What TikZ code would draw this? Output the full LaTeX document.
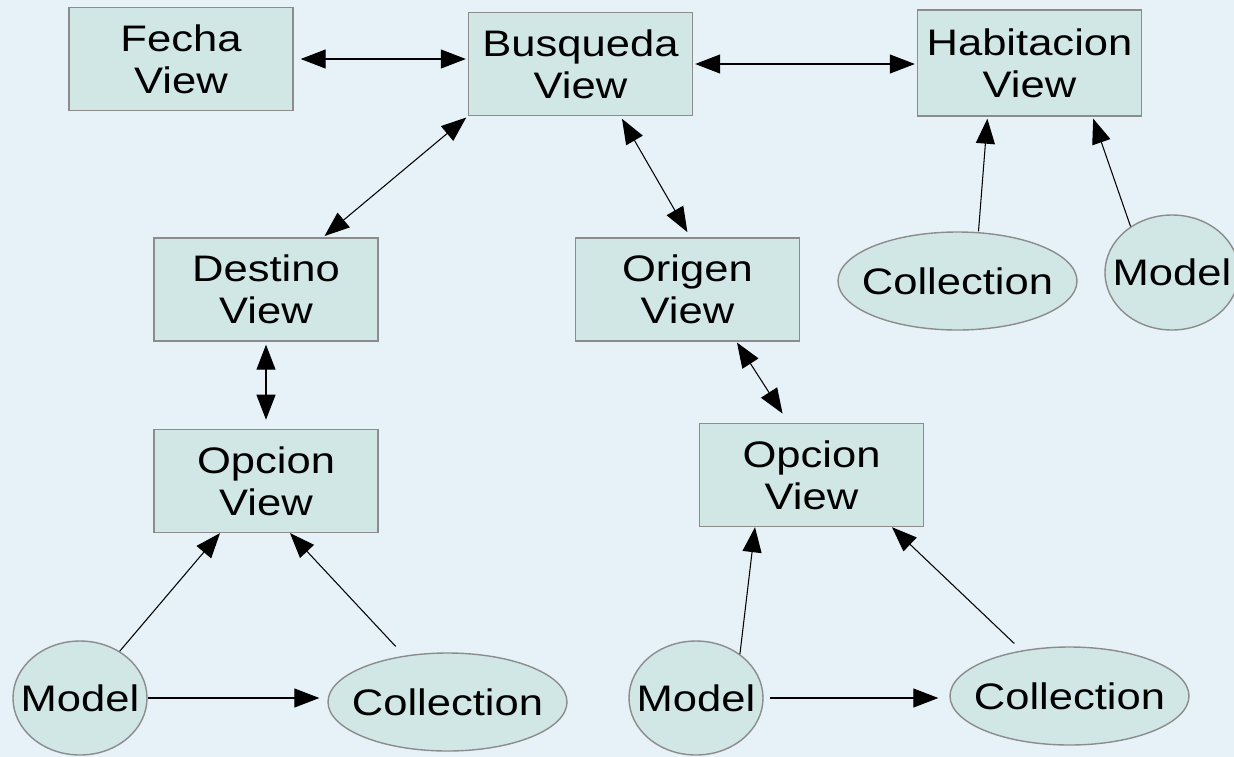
\documentclass[tikz,border=0pt]{standalone}
\usepackage{fontspec}
\setmainfont{Liberation Sans}[FakeStretch=1.18]
\usepackage{tikz}
\usetikzlibrary{arrows.meta}
\usetikzlibrary{positioning, shapes.geometric}
\definecolor{bgblue}{HTML}{E6F2F8}
\definecolor{boxfill}{HTML}{D0E7E6}
\definecolor{boxline}{HTML}{8C8C8C}

\begin{document}
\begin{tikzpicture}[auto, node distance=1cm, line width=0.6pt,
			box/.style={rectangle,draw=boxline,fill=boxfill,line width=0.8pt,minimum width=4.48cm,minimum height=2.06cm,align=center,font=\fontsize{21}{24}\selectfont},
			blob/.style={ellipse,draw=boxline,fill=boxfill,line width=0.8pt,inner sep=0pt,font=\fontsize{21}{24}\selectfont},
			collblob/.style={blob,minimum width=4.78cm,minimum height=1.96cm},
			modelblob/.style={blob,minimum width=2.68cm,minimum height=2.28cm},
			tip/.style={-{Triangle[length=0.5cm,width=0.38cm]}},
			twotips/.style={{Triangle[length=0.5cm,width=0.38cm]}-{Triangle[length=0.5cm,width=0.38cm]}}]
			
			\useasboundingbox (0,0) rectangle (24.68,-15.12);
			\fill[bgblue] (-0.2,0.2) rectangle (24.88,-15.32);
			
			\node[box] (fecha) at (3.62,-1.18) {Fecha\\View};
			\node[box] (busq) at (11.61,-1.28) {Busqueda\\View};
			\node[box, minimum height=2.12cm] (habit) at (20.59,-1.26) {Habitacion\\View};
			\node[box] (destino) at (5.32,-5.79) {Destino\\View};
			\node[box] (origen) [right=3.92cm of destino] {Origen\\View};
			\node[box] (opcL) [below=1.74cm of destino] {Opcion\\View};
			\node[box] (opcR) at (16.23,-9.5) {Opcion\\View};
			\node[collblob] (collTR) at (19.15,-5.62) {\makebox[0pt]{Collection}};
			\node[modelblob, minimum height=2.3cm] (modelTR) at (23.44,-5.45) {\makebox[0pt]{Model}};
			\node[modelblob] (modelL) at (1.6,-13.96) {\makebox[0pt]{Model}};
			\node[collblob] (collL) at (8.95,-14.04) {\makebox[0pt]{Collection}};
			\node[modelblob] (modelR) at (13.92,-13.96) {\makebox[0pt]{Model}};
			\node[collblob] (collR) at (21.39,-13.92) {\makebox[0pt]{Collection}};
			
			
			\path (fecha.east) edge [twotips, shorten <=0.14cm, shorten >=0.04cm] (fecha.east -| busq.west);
			\path (busq.east) edge [twotips, shorten <=0.04cm, shorten >=0.04cm] (busq.east -| habit.west);
			\path (busq.south west) edge [twotips, shorten <=0.04cm, shorten >=0.04cm] ([xshift=1.14cm]destino.north);
			\path ([xshift=0.8cm]busq.south) edge [twotips, shorten <=0.06cm, shorten >=0.12cm] ([xshift=0.06cm]origen.north);
			\path (destino.south) edge [twotips, shorten <=0.06cm, shorten >=0.18cm] (opcL.north);
			\path ([xshift=0.98cm]origen.south) edge [twotips, shorten <=0.02cm, shorten >=0.22cm] ([xshift=-0.46cm]opcR.north);
			\path ([xshift=0.42cm]collTR.north) edge [tip, shorten >=0.04cm] ([xshift=-0.84cm]habit.south);
			\path (modelTR.132) edge [tip, shorten >=0.04cm] ([xshift=1.26cm]habit.south);
			\path (modelL) edge [tip] ([xshift=-0.92cm]opcL.south);
			\path (collL) edge [tip, shorten <=0.25cm] ([xshift=0.48cm]opcL.south);
			\path (modelL.east) edge [tip, shorten >=0.16cm] (modelL.east -| collL.west);
			\path (modelR.45) edge [tip] ([xshift=-1.13cm]opcR.south);
			\path (collR) edge [tip, shorten <=0.2cm] ([xshift=1.61cm]opcR.south);
			\path (modelR.east) edge [tip, shorten <=0.12cm, shorten >=0.22cm] (modelR.east -| collR.west);
			\end{tikzpicture}
\end{document}
